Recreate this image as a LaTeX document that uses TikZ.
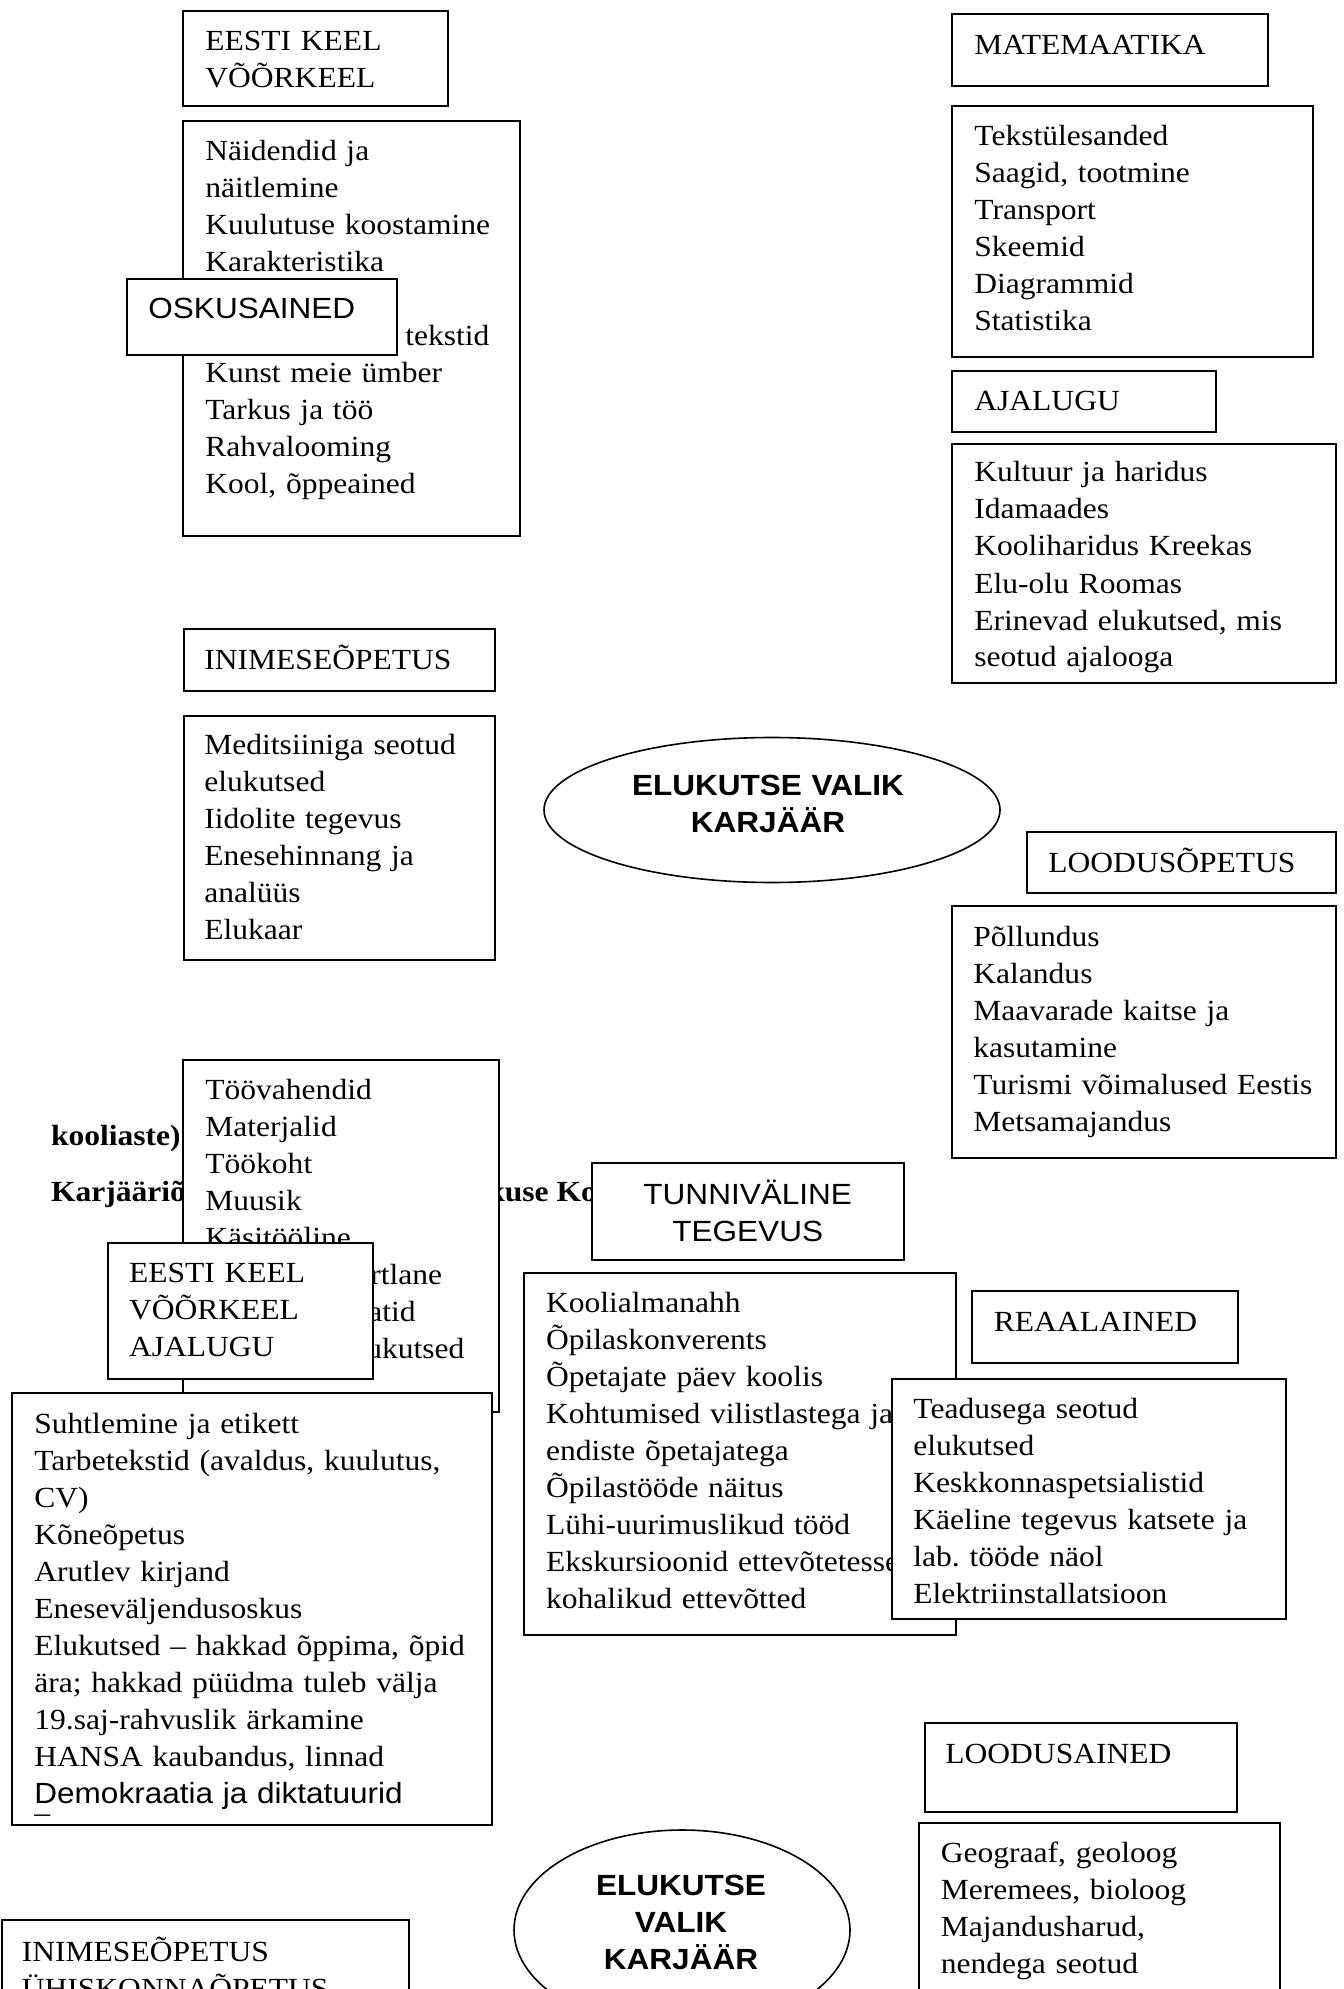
\documentclass[tikz,border=0pt]{standalone}
\usepackage{fontspec}
\setmainfont{Liberation Serif}[FakeStretch=1.08]
\setsansfont{Liberation Sans}[FakeStretch=1.08]
\usepackage{tikz}
\newcommand{\wordsize}{\fontsize{14.6pt}{18.5pt}\selectfont\frenchspacing}

\begin{document}
\begin{tikzpicture}[x=0.5pt, y=-0.5pt,
	box/.style={draw, line width=1pt, fill=white},
	oval/.style={draw, line width=0.8pt, fill=white},
	txt/.style={anchor=base west, inner sep=0pt, text width=240pt, align=left, font=\wordsize},
	stxt/.style={txt, font=\wordsize\sffamily},
	ctxt/.style={anchor=base, inner sep=0pt, text width=200pt, align=center, font=\wordsize\sffamily},
	otxt/.style={ctxt, font=\wordsize\sffamily\bfseries},
	bgtxt/.style={anchor=base west, inner sep=0pt, font=\wordsize\bfseries}]
	\useasboundingbox (0,0) rectangle (1343,1989);
	\clip (0,0) rectangle (1343,1989);

	\node[bgtxt] (aste) at (50.6,1145.7) {kooliaste)};
	\node[bgtxt] (karj) at (50.6,1201) {Karjääriõ};
	\node[bgtxt] (kuse) at (487,1201) {kuse Ko};

	\draw[box] (183,11) rectangle (448,106);
	\node[txt] (eesti) at (205,51) {EESTI KEEL\\VÕÕRKEEL};
	\draw[box] (183,121) rectangle (520,536);
	\node[txt] (naid) at (205,160.7) {Näidendid ja\\näitlemine\\Kuulutuse koostamine\\Karakteristika\\\mbox{}\\\hspace*{100pt}tekstid\\Kunst meie ümber\\Tarkus ja töö\\Rahvalooming\\Kool, õppeained};
	\draw[box] (127,279) rectangle (396.5,355.4);
	\node[stxt] (osk) at (148,318.6) {OSKUSAINED};

	\draw[box] (952,14) rectangle (1268,86);
	\node[txt] (mat) at (974,55) {MATEMAATIKA};
	\draw[box] (952,106) rectangle (1313,357);
	\node[txt] (matlist) at (974,146) {Tekstülesanded\\Saagid, tootmine\\Transport\\Skeemid\\Diagrammid\\Statistika};
	\draw[box] (952,371) rectangle (1216,432);
	\node[txt] (ajal) at (974,411) {AJALUGU};
	\draw[box] (952,444) rectangle (1336,683);
	\node[txt] (ajallist) at (974,482) {Kultuur ja haridus\\Idamaades\\Kooliharidus Kreekas\\Elu-olu Roomas\\Erinevad elukutsed, mis\\seotud ajalooga};

	\draw[box] (184,629) rectangle (495,691);
	\node[txt] (inim) at (204,669) {INIMESEÕPETUS};
	\draw[box] (184,716) rectangle (495,960);
	\node[txt] (inimlist) at (204,754.6) {Meditsiiniga seotud\\elukutsed\\Iidolite tegevus\\Enesehinnang ja\\analüüs\\Elukaar};

	\draw[oval] (772,810) ellipse [x radius=228, y radius=72.5];
	\node[otxt] (valik) at (768,795.7) {ELUKUTSE VALIK\\KARJÄÄR};

	\draw[box] (1027,832) rectangle (1336,893);
	\node[txt] (lood) at (1048,872.5) {LOODUSÕPETUS};
	\draw[box] (952,906) rectangle (1336,1158);
	\node[txt] (loodlist) at (973,946) {Põllundus\\Kalandus\\Maavarade kaitse ja\\kasutamine\\Turismi võimalused Eestis\\Metsamajandus};

	\draw[box] (183,1060) rectangle (498.5,1412);
	\node[txt] (toolist) at (205,1099) {Töövahendid\\Materjalid\\Töökoht\\Muusik\\Käsitööline\\\hspace*{82.5pt}rtlane\\\hspace*{81.5pt}atid\\\hspace*{80.5pt}ukutsed};
	\draw[box] (108.4,1242.7) rectangle (373,1379);
	\node[txt] (keel) at (128.6,1282.7) {EESTI KEEL\\VÕÕRKEEL\\AJALUGU};
	\draw[box] (12,1393) rectangle (492,1825);
	\node[txt] (keellist) at (34,1433) {Suhtlemine ja etikett\\Tarbetekstid (avaldus, kuulutus,\\CV)\\Kõneõpetus\\Arutlev kirjand\\Eneseväljendusoskus\\Elukutsed – hakkad õppima, õpid\\ära; hakkad püüdma tuleb välja\\19.saj-rahvuslik ärkamine\\HANSA kaubandus, linnad\\{\sffamily Demokraatia ja diktatuurid}};
	\node[txt] (kriips) at (34,1822) {–};

	\draw[box] (591.5,1163) rectangle (904,1260);
	\node[ctxt] (tunni) at (747.7,1204) {TUNNIVÄLINE\\TEGEVUS};
	\draw[box] (523.5,1273) rectangle (956,1635);
	\node[txt] (tunnilist) at (545.7,1312) {Koolialmanahh\\Õpilaskonverents\\Õpetajate päev koolis\\Kohtumised vilistlastega ja\\endiste õpetajatega\\Õpilastööde näitus\\Lühi-uurimuslikud tööd\\Ekskursioonid ettevõtetesse\\kohalikud ettevõtted};
	\draw[box] (972,1291) rectangle (1238,1363);
	\node[txt] (reaal) at (993.5,1331) {REAALAINED};
	\draw[box] (891.5,1379) rectangle (1286,1619);
	\node[txt] (reaallist) at (913,1418) {Teadusega seotud\\elukutsed\\Keskkonnaspetsialistid\\Käeline tegevus katsete ja\\lab. tööde näol\\Elektriinstallatsioon};

	\draw[box] (925,1723) rectangle (1237,1812);
	\node[txt] (loodus) at (945,1763) {LOODUSAINED};
	\draw[box] (919,1823) rectangle (1280,2010);
	\node[txt] (looduslist) at (940.5,1862) {Geograaf, geoloog\\Meremees, bioloog\\Majandusharud,\\nendega seotud};

	\draw[oval] (682,1930) ellipse [x radius=168, y radius=100];
	\node[otxt] (valik2) at (681,1895) {ELUKUTSE\\VALIK\\KARJÄÄR};

	\draw[box] (1.7,1920) rectangle (409,2010);
	\node[txt] (yhis) at (21.5,1961) {INIMESEÕPETUS\\ÜHISKONNAÕPETUS};
\end{tikzpicture}
\end{document}
